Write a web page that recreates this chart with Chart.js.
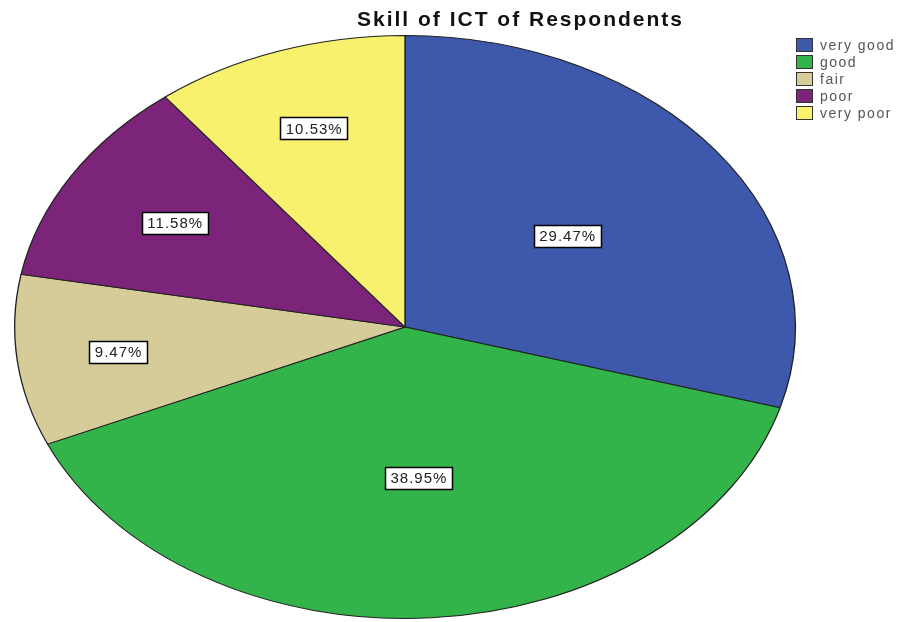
<!DOCTYPE html>
<html>
<head>
<meta charset="utf-8">
<script src="https://cdn.jsdelivr.net/npm/chart.js@4/dist/chart.umd.min.js"></script>
<style>
html,body{margin:0;padding:0;background:#fff;}
#wrap{width:901px;height:622px;position:relative;}
</style>
</head>
<body>
<div id="wrap"><canvas id="c" width="901" height="622"></canvas></div>
<script>
const chartTitle = "Skill of ICT of Respondents";
const categories = ["very good", "good", "fair", "poor", "very poor"];
const percentages = [29.47, 38.95, 9.47, 11.58, 10.53];
const sliceColors = ["#3E58AC", "#33B44A", "#D5CC9A", "#7B2479", "#F7F16E"];

// label placement (fraction of radius along each slice's mid-angle)
const labelRadius = [0.52, 0.52, 0.74, 0.69, 0.72];

const CX = 405, CY = 327, RX = 391, RY = 292;
const SX = RX / RY;

const ellipsePlugin = {
  id: 'ellipse',
  beforeDatasetsDraw(chart) {
    const ctx = chart.ctx;
    const a = chart.getDatasetMeta(0).data[0];
    ctx.save();
    ctx.translate(a.x, a.y);
    ctx.scale(SX, 1);
    ctx.translate(-a.x, -a.y);
  },
  afterDatasetsDraw(chart) {
    chart.ctx.restore();
  },
  afterDraw(chart) {
    const ctx = chart.ctx;
    const meta = chart.getDatasetMeta(0);
    ctx.save();
    ctx.font = "15px 'Liberation Sans', Arial, sans-serif";
    ctx.letterSpacing = '1px';
    ctx.textAlign = 'center';
    ctx.textBaseline = 'middle';
    meta.data.forEach((arc, i) => {
      const mid = (arc.startAngle + arc.endAngle) / 2;
      const r = arc.outerRadius * labelRadius[i];
      const x = arc.x + Math.cos(mid) * r * SX;
      const y = arc.y + Math.sin(mid) * r;
      const txt = percentages[i].toFixed(2) + '%';
      const w = Math.round(ctx.measureText(txt).width + 10);
      const h = 22;
      const bx = Math.round(x - w / 2) + 0.5, by = Math.round(y - h / 2) + 0.5;
      ctx.fillStyle = '#ffffff';
      ctx.fillRect(bx, by, w, h);
      ctx.strokeStyle = '#000';
      ctx.lineWidth = 1.5;
      ctx.strokeRect(bx, by, w, h);
      ctx.fillStyle = '#222';
      ctx.fillText(txt, x + 0.5, y + 1);
    });
    // title
    ctx.font = "bold 21px 'Liberation Sans', Arial, sans-serif";
    ctx.letterSpacing = '2px';
    ctx.fillStyle = '#111';
    ctx.textAlign = 'left';
    ctx.fillText(chartTitle, 357, 20);
    // legend
    ctx.font = "14px 'Liberation Sans', Arial, sans-serif";
    ctx.letterSpacing = '1.5px';
    ctx.textAlign = 'left';
    categories.forEach((c, i) => {
      const y = 45 + i * 17;
      ctx.fillStyle = sliceColors[i];
      ctx.fillRect(796.5, Math.round(y - 7) + 0.5, 16, 13);
      ctx.strokeStyle = '#333';
      ctx.lineWidth = 1;
      ctx.strokeRect(796.5, Math.round(y - 7) + 0.5, 16, 13);
      ctx.fillStyle = '#555';
      ctx.fillText(c, 820, y + 1);
    });
    ctx.restore();
  }
};

new Chart(document.getElementById('c'), {
  type: 'pie',
  data: {
    labels: categories,
    datasets: [{
      data: percentages,
      backgroundColor: sliceColors,
      borderColor: '#222',
      borderWidth: 1
    }]
  },
  options: {
    responsive: false,
    animation: false,
    events: [],
    layout: { padding: { top: CY - RY, bottom: 622 - CY - RY, left: CX - RY, right: 901 - CX - RY } },
    plugins: {
      legend: { display: false },
      title: { display: false },
      tooltip: { enabled: false }
    }
  },
  plugins: [ellipsePlugin]
});
</script>
</body>
</html>
